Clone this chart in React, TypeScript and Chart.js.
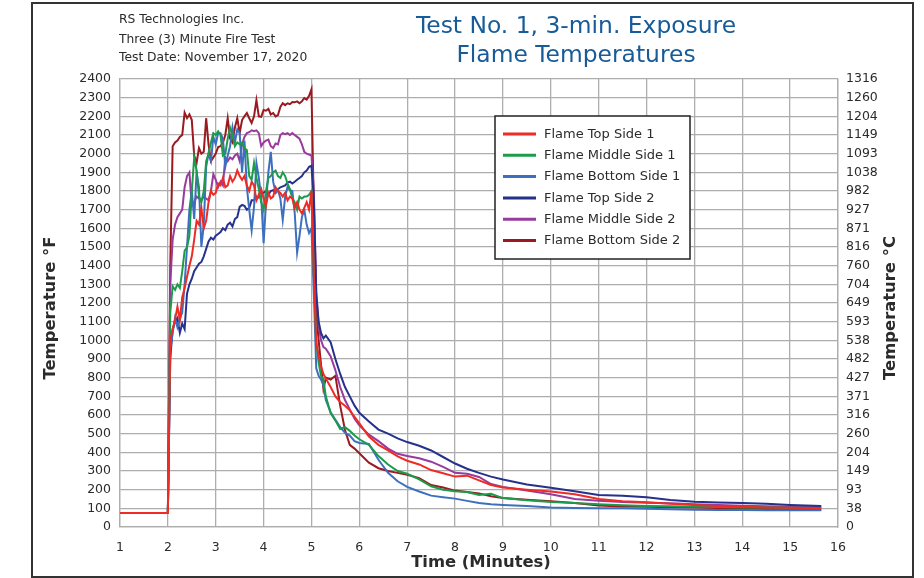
import React, { useEffect, useRef } from "react";
import { Chart, registerables } from "chart.js";

Chart.register(...registerables);

const TIME = [
  1.0, 2.0, 2.05,
  2.1, 2.15, 2.2, 2.25, 2.3, 2.35, 2.4, 2.45, 2.5, 2.55,
  2.6, 2.65, 2.7, 2.75, 2.8, 2.85, 2.9, 2.95, 3.0, 3.05,
  3.1, 3.15, 3.2, 3.25, 3.3, 3.35, 3.4, 3.45, 3.5, 3.55,
  3.6, 3.65, 3.7, 3.75, 3.8, 3.85, 3.9, 3.95, 4.0, 4.05,
  4.1, 4.15, 4.2, 4.25, 4.3, 4.35, 4.4, 4.45, 4.5, 4.55,
  4.6, 4.65, 4.7, 4.75, 4.8, 4.85, 4.9, 4.95, 5.0,
  5.05, 5.1, 5.15, 5.2, 5.25, 5.3, 5.4, 5.5, 5.6, 5.7, 5.8, 5.9, 6.0,
  6.2, 6.4, 6.6, 6.8, 7.0, 7.25, 7.5, 7.75, 8.0, 8.25, 8.5, 8.75, 9.0,
  9.5, 10, 10.5, 11, 11.5, 12, 12.5, 13, 13.5, 14, 14.5, 15, 15.65,
];

const FLAME_TOP_1 = [
  75, 75, 1000,
  1060, 1110, 1180, 1110, 1230, 1280, 1340, 1400, 1450, 1540,
  1640, 1620, 1710, 1600, 1640, 1740, 1800, 1780, 1790, 1840,
  1830, 1870, 1820, 1830, 1880, 1850, 1870, 1910, 1880, 1860,
  1880, 1830, 1800, 1850, 1830, 1750, 1780, 1810, 1760, 1720,
  1790, 1760, 1770, 1820, 1800, 1790, 1770, 1790, 1750, 1770,
  1760, 1710, 1740, 1700, 1680, 1710, 1740, 1700, 1800,
  1350, 980, 920, 860, 820, 795, 750, 700, 670, 650, 625, 590, 555,
  485, 440, 410, 378, 355, 335, 305, 288, 270, 275, 250, 225, 212,
  200, 190, 175, 150, 138, 132, 125, 118, 112, 108, 105, 103, 101,
];

const FLAME_MIDDLE_1 = [
  75, 75, 1150,
  1290, 1270, 1300, 1280, 1370, 1480, 1500, 1560, 1800, 1980,
  1910, 1770, 1740, 1800, 1960, 2000, 2060, 2110, 2100, 2120,
  2100, 1990, 2000, 2080, 2140, 2100, 2040, 2060, 2050, 2060,
  2030, 2020, 1880, 1860, 1950, 1870, 1810, 1740, 1700, 1800,
  1870, 1880, 1900, 1910, 1880, 1870, 1900, 1880, 1840, 1810,
  1760, 1740, 1700, 1770, 1760, 1770, 1770, 1780, 1800,
  1350, 1000, 880, 810, 790, 700, 610, 570, 525, 535, 515, 490, 470,
  440, 380, 335, 300, 285, 255, 218, 200, 192, 188, 172, 178, 155,
  143, 134, 129, 122, 117, 113, 111, 109, 107, 105, 104, 103, 102,
];

const FLAME_BOTTOM_1 = [
  75, 75, 950,
  1040, 1120, 1070, 1110, 1150, 1300, 1500, 1700, 1800, 1650,
  1900, 1820, 1500, 1620, 1930, 2000, 1960, 2090, 2050, 2110,
  2110, 2080, 1930, 1990, 2040, 2140, 2060, 2130, 2110, 1900,
  2070, 1820, 1700, 1590, 1715, 1950, 1870, 1768, 1521, 1735,
  1900, 2010, 1850, 1790, 1805, 1760, 1645, 1768, 1822, 1805,
  1800, 1682, 1470, 1560, 1660, 1700, 1620, 1575, 1600,
  1250, 850, 810, 790, 760, 680, 615, 575, 535, 505, 490, 460, 450,
  445, 360, 290, 245, 215, 190, 168, 160, 152, 140, 128, 122, 118,
  112, 104, 102, 101, 100, 98, 95, 92, 91, 91, 90, 90, 90,
];

const FLAME_TOP_2 = [
  75, 75, 900,
  1060, 1100, 1120, 1040, 1090, 1060, 1250, 1300, 1330, 1370,
  1390, 1410, 1420, 1450, 1490, 1530, 1550, 1540, 1560, 1570,
  1580, 1600, 1590, 1620, 1630, 1610, 1650, 1660, 1715, 1725,
  1720, 1700, 1710, 1750, 1750, 1770, 1765, 1790, 1790, 1800,
  1780, 1800, 1805, 1790, 1810, 1820, 1825, 1830, 1845, 1850,
  1840, 1850, 1860, 1870, 1880, 1900, 1910, 1930, 1935,
  1750, 1250, 1100, 1040, 1010, 1025, 990, 900, 820, 750, 700, 650, 612,
  565, 522, 500, 475, 455, 435, 410, 375, 340, 312, 290, 270, 255,
  228, 210, 192, 172, 168, 160, 145, 135, 131, 128, 124, 118, 113,
];

const FLAME_MIDDLE_2 = [
  75, 75, 1300,
  1540, 1620, 1660, 1680, 1700, 1820, 1880, 1900, 1720, 1740,
  1770, 1760, 1750, 1770, 1760, 1750, 1800, 1890, 1860, 1820,
  1850, 1830, 1980, 1960, 1980, 1970, 1990, 2000, 1960, 2050,
  2090, 2110, 2115, 2125, 2120, 2125, 2110, 2040, 2060, 2070,
  2075, 2040, 2030, 2055, 2050, 2100, 2110, 2105, 2110, 2100,
  2110, 2100, 2090, 2080, 2050, 2010, 2000, 1995, 1990,
  1800, 1250, 1080, 1000, 964, 955, 915, 840, 750, 680, 630, 580, 545,
  495, 460, 420, 392, 380, 368, 350, 322, 290, 285, 268, 230, 215,
  195, 175, 150, 140, 134, 130, 127, 122, 118, 114, 111, 109, 107,
];

const FLAME_BOTTOM_2 = [
  75, 75, 1400,
  2040, 2060, 2070, 2090, 2100, 2220, 2190, 2210, 2180, 1990,
  1950, 2030, 2000, 2010, 2190, 2050, 1960, 1980, 2000, 2035,
  2040, 2060, 2100, 2190, 2080, 2060, 2140, 2190, 2110, 2180,
  2200, 2218, 2190, 2164, 2200, 2287, 2200, 2197, 2234, 2230,
  2240, 2210, 2218, 2200, 2207, 2250, 2270, 2260, 2270, 2265,
  2277, 2275, 2280, 2270, 2280, 2298, 2290, 2310, 2345,
  1700, 1150, 1000, 870, 740, 800, 790, 810, 650, 520, 440, 420, 395,
  345, 315, 300, 290, 280, 262, 225, 212, 195, 188, 180, 165, 155,
  146, 138, 128, 115, 110, 108, 106, 104, 102, 100, 97, 94, 91,
];

const SERIES_LABELS = [
  "Flame Top Side 1",
  "Flame Middle Side 1",
  "Flame Bottom Side 1",
  "Flame Top Side 2",
  "Flame Middle Side 2",
  "Flame Bottom Side 2",
];
const SERIES_COLORS = ["#ee2b25", "#1c9b4b", "#3d6fbf", "#25318c", "#983b9c", "#9a1a1f"];
const SERIES_VALUES = [FLAME_TOP_1, FLAME_MIDDLE_1, FLAME_BOTTOM_1, FLAME_TOP_2, FLAME_MIDDLE_2, FLAME_BOTTOM_2];

const CELSIUS_LABELS = [
  "0", "38", "93", "149", "204", "260", "316", "371", "427", "482", "538", "593", "649",
  "704", "760", "816", "871", "927", "982", "1038", "1093", "1149", "1204", "1260", "1316",
];

const HEADER_LINES = ["RS Technologies Inc.", "Three (3) Minute Fire Test", "Test Date: November 17, 2020"];
const TITLE_LINES = ["Test No. 1, 3-min. Exposure", "Flame Temperatures"];
const X_TITLE = "Time (Minutes)";
const Y_TITLE_LEFT = "Temperature °F";
const Y_TITLE_RIGHT = "Temperature °C";

const FONT = "'DejaVu Sans', sans-serif";
const TEXT_COLOR = "#2b2b2b";
const GRID_COLOR = "#adadad";

const decorPlugin = {
  id: "decor",
  afterDraw(chart: any) {
    const ctx = chart.ctx as CanvasRenderingContext2D;
    ctx.save();

    // outer frame
    ctx.strokeStyle = "#333";
    ctx.lineWidth = 2;
    ctx.strokeRect(32, 3, 881, 574);

    // header
    ctx.fillStyle = TEXT_COLOR;
    ctx.font = `400 12.3px ${FONT}`;
    ctx.textAlign = "left";
    ctx.textBaseline = "middle";
    const headerY = [20, 39.5, 58];
    HEADER_LINES.forEach((t, i) => ctx.fillText(t, 119, headerY[i]));

    // title
    ctx.fillStyle = "#175b98";
    ctx.font = `400 23.4px ${FONT}`;
    ctx.textAlign = "center";
    ctx.fillText(TITLE_LINES[0], 576, 27);
    ctx.fillText(TITLE_LINES[1], 576, 56);

    // axis titles
    ctx.fillStyle = TEXT_COLOR;
    ctx.font = `700 16.4px ${FONT}`;
    ctx.fillText(X_TITLE, 481, 563);
    const midY = 308;
    ctx.save();
    ctx.translate(51, midY);
    ctx.rotate(-Math.PI / 2);
    ctx.fillText(Y_TITLE_LEFT, 0, 0);
    ctx.restore();
    ctx.save();
    ctx.translate(891, midY);
    ctx.rotate(-Math.PI / 2);
    ctx.fillText(Y_TITLE_RIGHT, 0, 0);
    ctx.restore();

    // legend
    const lx = 495, ly = 116, lw = 195, lh = 143;
    ctx.fillStyle = "#fff";
    ctx.fillRect(lx, ly, lw, lh);
    ctx.strokeStyle = "#222";
    ctx.lineWidth = 1.5;
    ctx.strokeRect(lx, ly, lw, lh);
    ctx.font = `400 13px ${FONT}`;
    ctx.textAlign = "left";
    chart.data.datasets.forEach((ds: any, i: number) => {
      const y = 134 + i * 21.3;
      ctx.strokeStyle = ds.borderColor;
      ctx.lineWidth = 3;
      ctx.beginPath();
      ctx.moveTo(503, y);
      ctx.lineTo(536, y);
      ctx.stroke();
      ctx.fillStyle = TEXT_COLOR;
      ctx.fillText(ds.label, 544, y + 0.5);
    });

    ctx.restore();
  },
};

export default function App() {
  const canvasRef = useRef<HTMLCanvasElement | null>(null);

  useEffect(() => {
    if (!canvasRef.current) return;
    const datasets = SERIES_VALUES.map((vals, i) => ({
      label: SERIES_LABELS[i],
      data: TIME.map((t, j) => ({ x: t, y: vals[j] })),
      borderColor: SERIES_COLORS[i],
      backgroundColor: SERIES_COLORS[i],
      borderWidth: 2,
      pointRadius: 0,
      tension: 0,
      fill: false,
    }));
    const tickFont = { family: FONT, size: 12.5 };
    const chart = new Chart(canvasRef.current, {
      type: "line",
      data: { datasets },
      plugins: [decorPlugin],
      options: {
        animation: false,
        responsive: true,
        maintainAspectRatio: false,
        layout: { padding: { top: 79, left: 0, right: 0, bottom: 0 } },
        plugins: { legend: { display: false }, title: { display: false }, tooltip: { enabled: false } },
        scales: {
          x: {
            type: "linear",
            min: 1,
            max: 16,
            ticks: { stepSize: 1, padding: 13, color: TEXT_COLOR, font: tickFont, maxRotation: 0, callback: (v: any) => String(v) },
            grid: { color: GRID_COLOR, lineWidth: 1.3, drawTicks: false },
            border: { color: GRID_COLOR, width: 1.3 },
            afterFit: (s: any) => { s.height = 51; },
          },
          y: {
            position: "left",
            min: 0,
            max: 2400,
            ticks: { stepSize: 100, padding: 9, color: TEXT_COLOR, font: tickFont, callback: (v: any) => String(v) },
            grid: { color: GRID_COLOR, lineWidth: 1.3, drawTicks: false },
            border: { color: GRID_COLOR, width: 1.3 },
            afterFit: (s: any) => { s.width = 120; },
          },
          y2: {
            position: "right",
            min: 0,
            max: 2400,
            ticks: {
              stepSize: 100,
              padding: 8,
              color: TEXT_COLOR,
              font: tickFont,
              callback: (_v: any, idx: number) => CELSIUS_LABELS[idx],
            },
            grid: { drawOnChartArea: false, drawTicks: false },
            border: { color: GRID_COLOR, width: 1.3 },
            afterFit: (s: any) => { s.width = 86; },
          },
        },
      },
    });
    return () => chart.destroy();
  }, []);

  return (
    <div style={{ position: "absolute", left: 0, top: 0, width: 924, height: 578, background: "#fff" }}>
      <canvas ref={canvasRef} />
    </div>
  );
}
